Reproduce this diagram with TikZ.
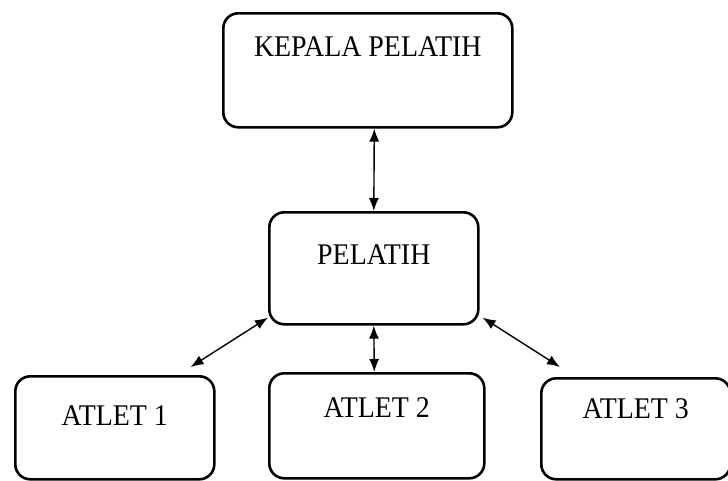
\documentclass[tikz,border=0pt]{standalone}
\usepackage{fontspec}
\setmainfont[FakeStretch=0.93]{Liberation Serif}
\usetikzlibrary{arrows.meta}

\begin{document}
\begin{tikzpicture}
  [
    x = 1pt, y = 1pt,
    every node/.style = {draw, rectangle, rounded corners = 15pt,
      line width = 2.6pt, inner sep = 0pt, anchor = north west,
      font = \fontsize{30}{32}\selectfont},
    link/.style = {line width = 1.4pt,
      {Latex[length=13pt,width=10pt]}-{Latex[length=13pt,width=10pt]}}
  ]
  \useasboundingbox (0,0) rectangle (728,-480);
  % top of the chart
  \node (Kepala) at (222,-12)
    [minimum width = 289pt, text height = 43pt, text depth = 71pt] {KEPALA PELATIH};
  \node (Pelatih) at (268,-211)
    [minimum width = 209pt, text height = 52pt, text depth = 60pt] {PELATIH};
  % athletes
  \node (Atlet1) at (14,-375)
    [minimum width = 199pt, text height = 49pt, text depth = 54pt] {ATLET 1};
  \node (Atlet2) at (268,-372)
    [minimum width = 215pt, text height = 44pt, text depth = 61pt] {ATLET 2};
  \node (Atlet3) at (537,-377)
    [minimum width = 189pt, text height = 40pt, text depth = 61pt, xshift = 3pt] {ATLET 3};
  \draw [link] ([xshift=6.5pt]Kepala.south) -- (Pelatih.north);
  \draw [link] (Pelatih.south) -- ([xshift=-2.5pt]Atlet2.north);
  \draw [link] ([yshift=8pt]Pelatih.south west) -- ([xshift=-25pt,yshift=8pt]Atlet1.north east);
  \draw [link] ([xshift=3pt,yshift=8pt]Pelatih.south east) -- ([xshift=20pt,yshift=10pt]Atlet3.north west);
\end{tikzpicture}
\end{document}
